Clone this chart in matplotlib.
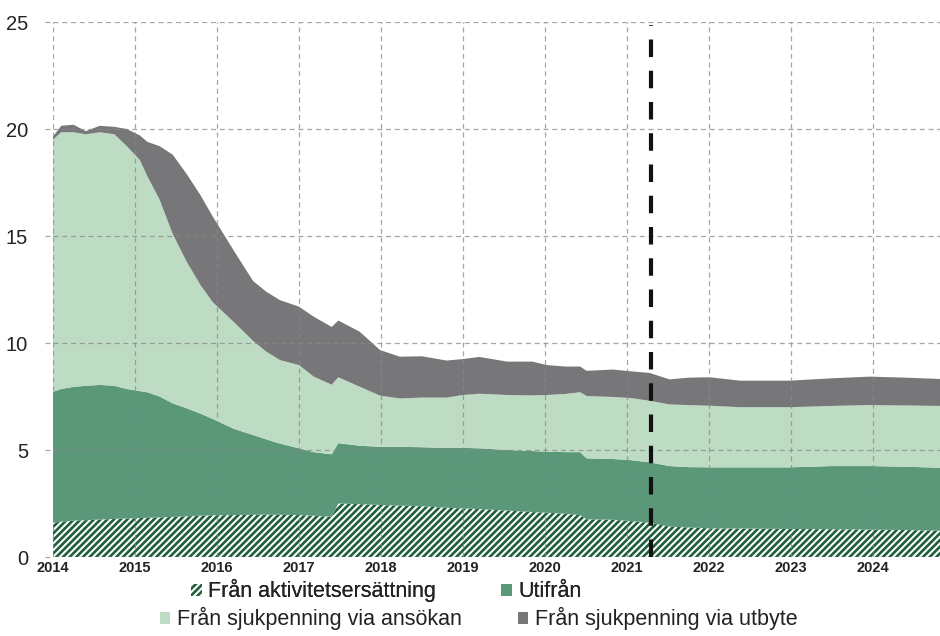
import matplotlib
matplotlib.use("Agg")
import matplotlib.pyplot as plt
import numpy as np

plt.rcParams['font.family'] = ['Liberation Sans', 'DejaVu Sans']
plt.rcParams['hatch.linewidth'] = 1.9

# time axis (decimal years)
dates = [2014.00, 2014.10, 2014.25, 2014.40, 2014.57, 2014.75, 2014.90, 2015.06, 2015.15,
         2015.30, 2015.46, 2015.63, 2015.80, 2015.95, 2016.20, 2016.44, 2016.60, 2016.77,
         2017.00, 2017.18, 2017.40, 2017.48, 2017.74, 2017.99, 2018.23, 2018.50, 2018.80,
         2019.00, 2019.20, 2019.54, 2019.85, 2020.02, 2020.25, 2020.43, 2020.51, 2020.83,
         2021.04, 2021.28, 2021.52, 2021.75, 2022.01, 2022.38, 2022.99, 2023.50, 2023.96,
         2024.40, 2024.82]

aktivitet = [1.60, 1.65, 1.70, 1.72, 1.75, 1.78, 1.80, 1.82, 1.83,
             1.85, 1.87, 1.90, 1.93, 1.95, 1.96, 1.97, 1.98, 1.97,
             1.96, 1.93, 1.88, 2.50, 2.47, 2.43, 2.40, 2.37, 2.30,
             2.27, 2.24, 2.17, 2.10, 2.07, 2.02, 1.96, 1.76, 1.74,
             1.68, 1.60, 1.42, 1.38, 1.34, 1.33, 1.31, 1.30, 1.28,
             1.26, 1.23]

utifran = [6.12, 6.20, 6.25, 6.28, 6.29, 6.22, 6.05, 5.93, 5.87,
           5.65, 5.31, 5.05, 4.77, 4.50, 4.04, 3.73, 3.52, 3.33,
           3.12, 2.97, 2.92, 2.82, 2.73, 2.72, 2.75, 2.76, 2.80,
           2.83, 2.84, 2.83, 2.85, 2.85, 2.88, 2.94, 2.85, 2.84,
           2.85, 2.82, 2.83, 2.82, 2.85, 2.86, 2.88, 2.95, 2.97,
           2.96, 2.94]

ansokan = [11.78, 12.00, 11.90, 11.75, 11.81, 11.75, 11.35, 10.80, 10.10,
           9.20, 7.92, 6.85, 6.00, 5.45, 5.00, 4.40, 4.10, 3.90,
           3.89, 3.53, 3.25, 3.08, 2.76, 2.39, 2.26, 2.32, 2.35,
           2.47, 2.55, 2.57, 2.60, 2.65, 2.72, 2.80, 2.91, 2.90,
           2.90, 2.88, 2.88, 2.90, 2.88, 2.81, 2.81, 2.81, 2.85,
           2.86, 2.89]

utbyte = [0.15, 0.30, 0.35, 0.15, 0.30, 0.35, 0.80, 1.15, 1.60,
          2.50, 3.70, 4.10, 4.20, 4.00, 3.35, 2.80, 2.80, 2.80,
          2.73, 2.80, 2.70, 2.65, 2.57, 2.13, 1.95, 1.93, 1.73,
          1.68, 1.72, 1.56, 1.58, 1.40, 1.28, 1.20, 1.18, 1.28,
          1.25, 1.30, 1.17, 1.28, 1.33, 1.24, 1.24, 1.29, 1.33,
          1.30, 1.26]

labels = ["Från aktivitetsersättning", "Utifrån",
          "Från sjukpenning via ansökan", "Från sjukpenning via utbyte"]
years = list(range(2014, 2025))
yticks = [0, 5, 10, 15, 20, 25]
forecast_start = 2021.29

c_hatch = "#1f5e3d"
c_utifran = "#5a9879"
c_ansokan = "#bedcc3"
c_utbyte = "#77777a"

fig = plt.figure(figsize=(9.4, 6.36), dpi=100)
ax = fig.add_axes([0.0564, 0.1242, 1 - 0.0564, 0.9654 - 0.1242])

polys = ax.stackplot(dates, aktivitet, utifran, ansokan, utbyte,
                     colors=["white", c_utifran, c_ansokan, c_utbyte],
                     linewidth=0, zorder=1)
polys[0].set_hatch("/////")
polys[0].set_edgecolor(c_hatch)
polys[0].set_linewidth(0)

ax.axvline(forecast_start, ymin=0, ymax=0.995, color="#111111", lw=3,
           dashes=(4.2, 3.3), zorder=4)

ax.set_xlim(2014.0, 2024.82)
ax.set_ylim(0, 25)
ax.set_xticks(years)
ax.set_xticklabels([str(y) for y in years], fontweight="bold", fontsize=10.5)
ax.set_yticks(yticks)
ax.set_yticklabels([str(v) for v in yticks], fontsize=14.5)
ax.tick_params(axis="both", length=0, colors="#222222")
ax.tick_params(axis="x", pad=3)
ax.tick_params(axis="y", pad=18)
ax.grid(True, color="#888888", lw=0.9, linestyle=(0, (4, 3)), alpha=0.75, zorder=3)
ax.set_axisbelow(False)
for s in ax.spines.values():
    s.set_visible(False)

# short dashed stubs to the left of the axis (like reference)
for v in yticks:
    ax.plot([2013.9, 2014.0], [v, v], color="#888888", lw=0.9, linestyle=(0, (4, 3)),
            alpha=0.75, clip_on=False)

h = [polys[0], polys[1], polys[2], polys[3]]
leg1 = fig.legend([h[0], h[1]], [labels[0], labels[1]], ncol=2, loc="center",
                  bbox_to_anchor=(0.411, 0.071), frameon=False, fontsize=15.5,
                  handlelength=0.5, handleheight=0.5, handletextpad=0.3,
                  columnspacing=3.0, borderaxespad=0, borderpad=0)
leg2 = fig.legend([h[2], h[3]], [labels[2], labels[3]], ncol=2, loc="center",
                  bbox_to_anchor=(0.509, 0.027), frameon=False, fontsize=15.5,
                  handlelength=0.5, handleheight=0.5, handletextpad=0.3,
                  columnspacing=2.6, borderaxespad=0, borderpad=0)
fig.add_artist(leg1)
for t in leg1.get_texts() + leg2.get_texts():
    t.set_color("#222222")

fig.savefig("out.png", dpi=100)
